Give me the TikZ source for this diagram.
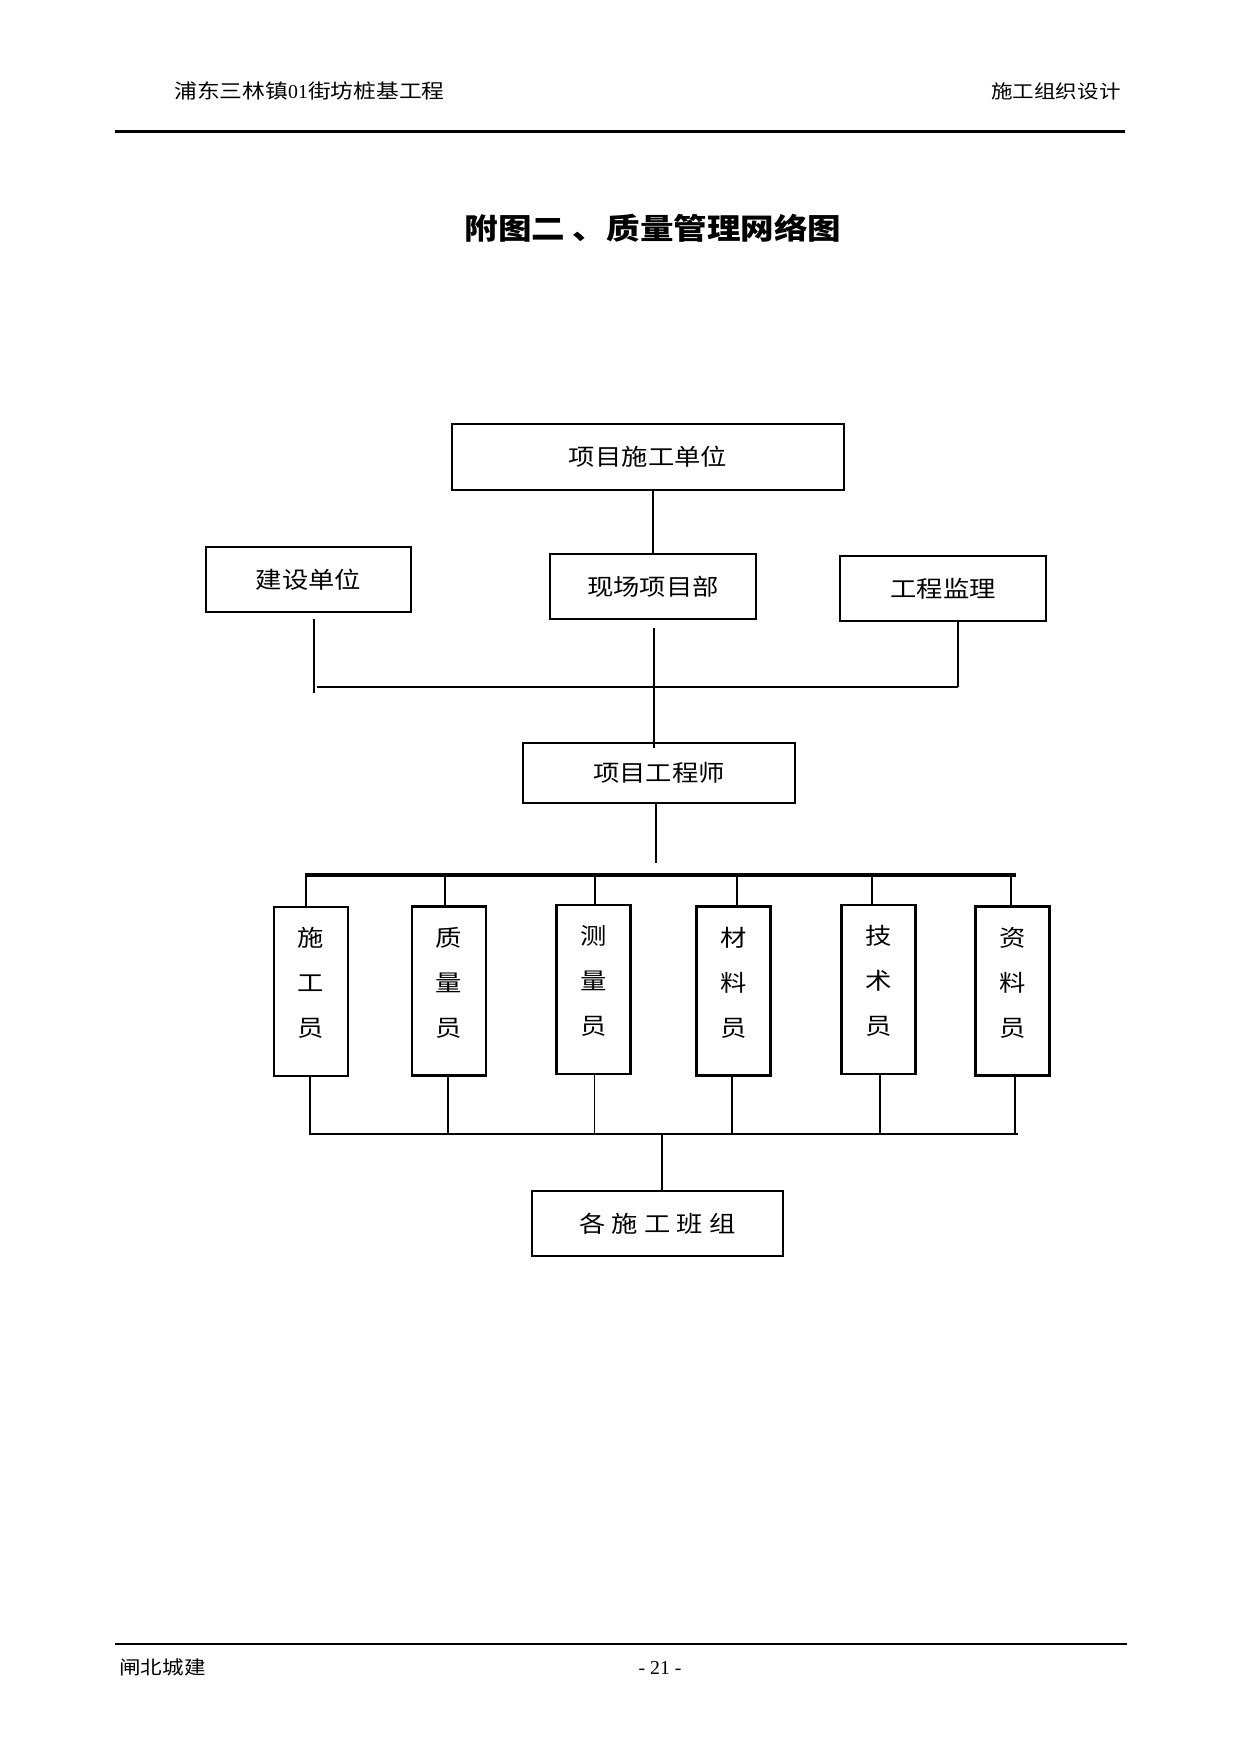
\documentclass[tikz,border=0pt]{standalone}
\usepackage{fontspec}
\setmainfont{Liberation Serif}
\newfontfamily\cjk[FakeStretch=1.15]{Noto Sans CJK SC}
\usetikzlibrary{calc}
\newcommand{\PXU}{0.48pt}
\tikzset{
  hbox/.style={draw, line width=1pt, inner sep=0pt, font=\cjk\fontsize{11}{13}\selectfont},
  vbox/.style={draw, line width=1pt, inner sep=0pt, minimum width=74*\PXU, minimum height=169*\PXU},
  vtext/.style={align=center, inner sep=0pt, font=\cjk\fontsize{11}{21.6}\selectfont},
  conn/.style={line width=0.8pt},
  thinconn/.style={line width=0.45pt},
  bus/.style={line width=1.1pt},
  topbus/.style={line width=1.5pt},
}
\begin{document}
\begin{tikzpicture}[x=0.48pt, y=-0.48pt]
\fill[white] (0,0) rectangle (1241,1754);
\useasboundingbox (0,0) rectangle (1241,1754);

% header and footer
\node[anchor=west, inner sep=0pt, font=\cjk\fontsize{9.5}{12}\selectfont] (hl) at (174,91) {浦东三林镇{\rmfamily 01}街坊桩基工程};
\node[anchor=east, inner sep=0pt, font=\cjk\fontsize{9}{11}\selectfont] (hr) at (1121,91) {施工组织设计};
\draw[line width=1pt] (115,131.5) -- (1125,131.5);
\draw[line width=0.7pt] (115,1644) -- (1127,1644);
\node[anchor=west, inner sep=0pt, font=\cjk\fontsize{9}{11}\selectfont] (fl) at (119,1667) {闸北城建};
\node[inner sep=0pt, font=\fontsize{9.5}{11}\selectfont] (pg) at (660,1668) {- 21 -};

% title
\node[inner sep=0pt, font=\cjk\bfseries\fontsize{14}{16}\selectfont] (title) at (653,228) {附图二 、质量管理网络图};

% upper boxes
\node[hbox, minimum width=392*\PXU, minimum height=66*\PXU] (sgdw) at (648,457) {项目施工单位};
\node[hbox, minimum width=205*\PXU, minimum height=65*\PXU] (jsdw) at (308.5,579.5) {建设单位};
\node[hbox, minimum width=206*\PXU, minimum height=65*\PXU] (xcxmb) at (653,586.5) {现场项目部};
\node[hbox, minimum width=206*\PXU, minimum height=65*\PXU] (gcjl) at (943,588.5) {工程监理};
\node[hbox, minimum width=272*\PXU, minimum height=60*\PXU] (gcs) at (659,773) {项目工程师};

% staff boxes
\node[vbox] (b1) at (311,991.5) {};
\node[vbox] (b2) at (449,991) {};
\node[vbox] (b3) at (593.5,989.5) {};
\node[vbox] (b4) at (733.5,991) {};
\node[vbox] (b5) at (878.5,989.5) {};
\node[vbox] (b6) at (1012.5,991) {};
\node[vtext] (t1) at ([yshift=4pt]b1.center) {施\\工\\员};
\node[vtext] (t2) at ([yshift=4pt]b2.center) {质\\量\\员};
\node[vtext] (t3) at ([yshift=4pt]b3.center) {测\\量\\员};
\node[vtext] (t4) at ([yshift=4pt]b4.center) {材\\料\\员};
\node[vtext] (t5) at ([yshift=4pt]b5.center) {技\\术\\员};
\node[vtext] (t6) at ([yshift=4pt]b6.center) {资\\料\\员};

% bottom box
\node[hbox, minimum width=251*\PXU, minimum height=65*\PXU] (bz) at (657.5,1223.5) {各\hspace{3pt}施\hspace{3pt}工\hspace{3pt}班\hspace{3pt}组};

% connectors upper part
\draw[conn] (xcxmb.north) -- (xcxmb.north |- sgdw.south);
\coordinate (busL) at (317,687);
\coordinate (busR) at (958,687);
\coordinate (jEnd) at (314,693);
\draw[bus] (busL) -- (busR);
\draw[conn] ($(jEnd |- jsdw.south)+(0,6)$) -- (jEnd);
\draw[conn] (busR |- gcjl.south) -- (busR);
\draw[conn] ($(xcxmb.south)+(1,8)$) -- ($(gcs.north)+(-5,6)$);
\coordinate (eEnd) at (656,863);
\draw[conn] (eEnd |- gcs.south) -- (eEnd);

% top bus and drops
\coordinate (tbL) at (305,875);
\coordinate (tbR) at (1016,875);
\draw[topbus] (tbL) -- (tbR);
\coordinate (d1) at (306,876);
\coordinate (d2) at (445,876);
\coordinate (d3) at (595,876);
\coordinate (d4) at (737,876);
\coordinate (d5) at (872,876);
\coordinate (d6) at (1011,876);
\draw[conn] (d1) -- (d1 |- b1.north);
\draw[conn] (d2) -- (d2 |- b2.north);
\draw[conn] (d3) -- (d3 |- b3.north);
\draw[conn] (d4) -- (d4 |- b4.north);
\draw[conn] (d5) -- (d5 |- b5.north);
\draw[conn] (d6) -- (d6 |- b6.north);

% bottom drops and bus
\coordinate (u1) at (310,1134);
\coordinate (u2) at (448,1134);
\coordinate (u3) at (594,1134);
\coordinate (u4) at (732,1134);
\coordinate (u5) at (880,1134);
\coordinate (u6) at (1015,1134);
\draw[conn] (u1 |- b1.south) -- (u1);
\draw[conn] (u2 |- b2.south) -- (u2);
\draw[thinconn] (u3 |- b3.south) -- (u3);
\draw[conn] (u4 |- b4.south) -- (u4);
\draw[bus] (u5 |- b5.south) -- (u5);
\draw[conn] (u6 |- b6.south) -- (u6);
\coordinate (bbL) at (309,1134);
\coordinate (bbR) at (1018,1134);
\draw[bus] (bbL) -- (bbR);
\coordinate (bc) at (662,1134);
\draw[conn] (bc) -- (bc |- bz.north);
\end{tikzpicture}
\end{document}
